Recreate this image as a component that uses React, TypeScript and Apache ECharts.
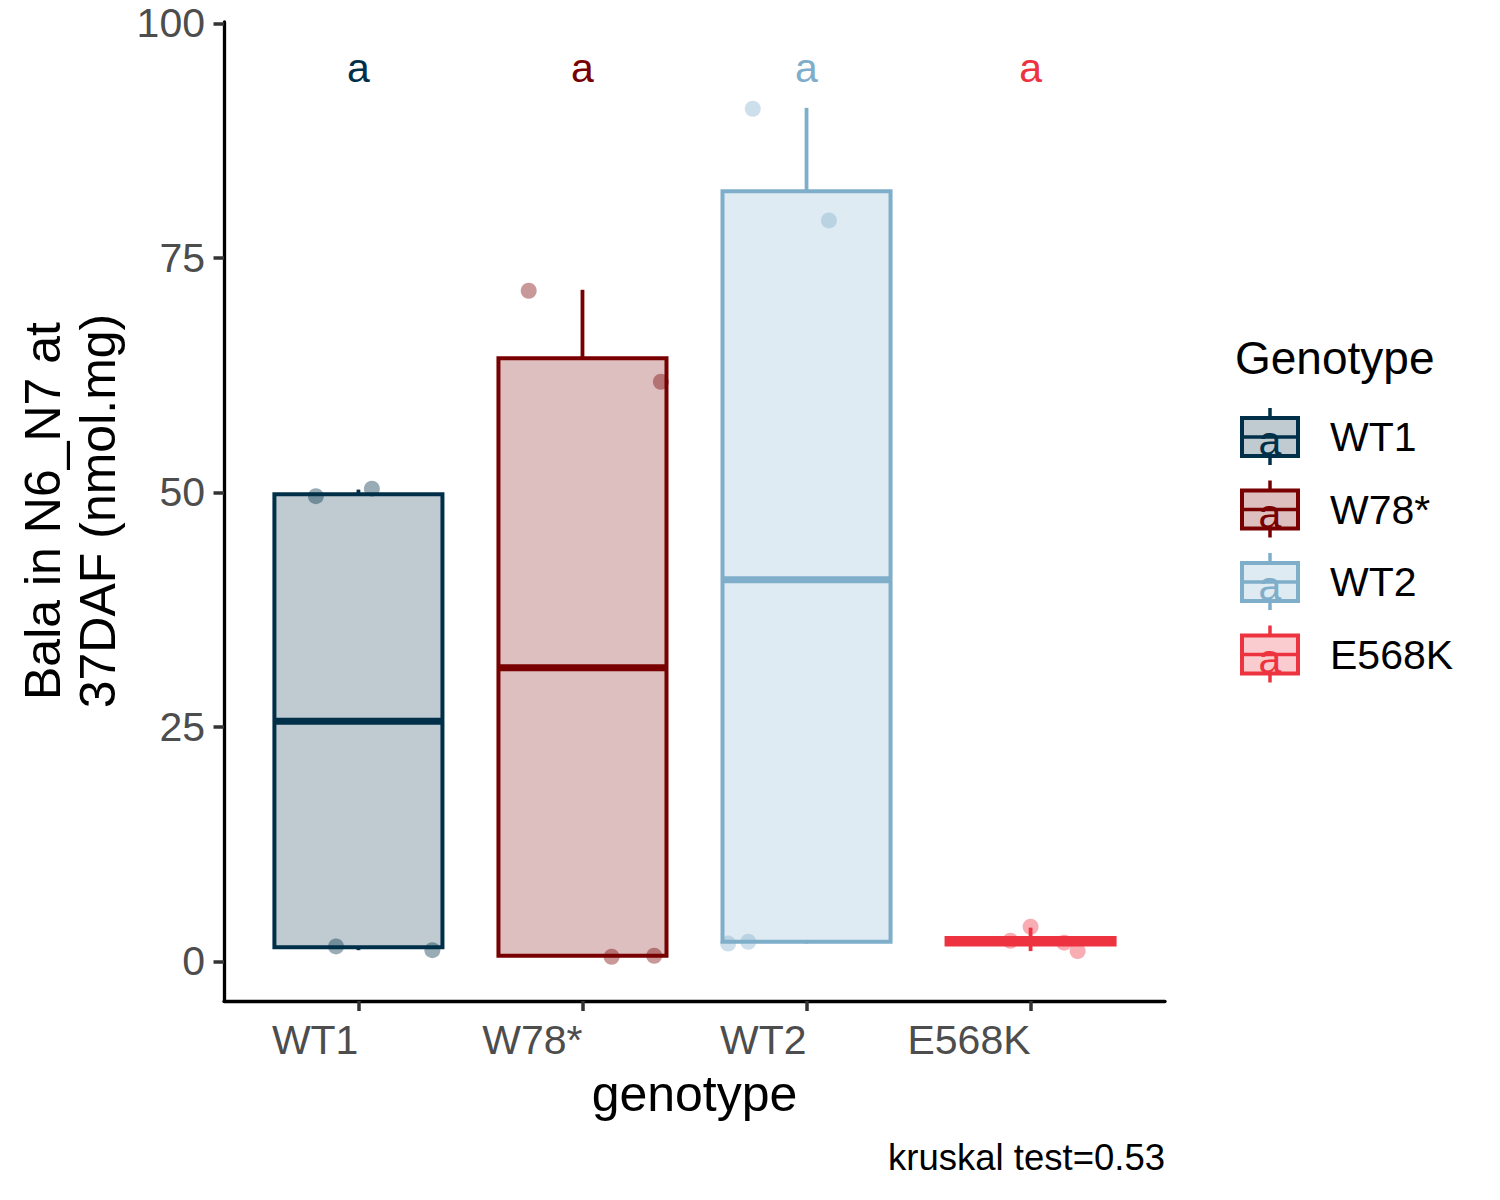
import React, { useEffect, useRef } from "react";
import * as echarts from "echarts";

// ---- data ----
const categories = ["WT1", "W78*", "WT2", "E568K"];
const lowerWhisker = [1.2, 0.5, 1.9, 1.1];
const q1 = [1.5, 0.6, 2.1, 1.8];
const median = [25.6, 31.3, 40.7, 2.1];
const q3 = [49.8, 64.3, 82.1, 2.5];
const upperWhisker = [50.3, 71.6, 91.0, 3.6];
// jittered points (x in category units, 1-based)
const pointsX = [
  [0.81, 1.06, 0.9, 1.33],
  [1.76, 2.35, 2.13, 2.32],
  [2.76, 3.1, 2.65, 2.74],
  [4.0, 3.91, 4.15, 4.21],
];
const pointsY = [
  [49.6, 50.4, 1.6, 1.2],
  [71.5, 61.8, 0.5, 0.6],
  [90.9, 79.0, 1.9, 2.1],
  [3.7, 2.2, 2.0, 1.1],
];
const letters = ["a", "a", "a", "a"];
const letterY = 95.2;
const yTicks = [0, 25, 50, 75, 100];
const xTicks = [1, 2, 3, 4];
const yTitle = "Bala in N6_N7 at\n37DAF (nmol.mg)";
const xTitle = "genotype";
const legendTitle = "Genotype";
const caption = "kruskal test=0.53";

// ---- styles ----
const COLORS = ["#003049", "#780000", "#7FAECA", "#EE3340"];
const FONT = "'Liberation Sans', Arial, sans-serif";
const BOX_WIDTH = 0.75;

function alpha(hex: string, a: number) {
  const r = parseInt(hex.slice(1, 3), 16);
  const g = parseInt(hex.slice(3, 5), 16);
  const b = parseInt(hex.slice(5, 7), 16);
  return `rgba(${r},${g},${b},${a})`;
}

export default function App() {
  const ref = useRef<HTMLDivElement>(null);
  useEffect(() => {
    document.body.style.margin = "0";
    const chart = echarts.init(ref.current!, null, { renderer: "svg" });

    const boxData = categories.map((_, i) => [
      i + 1,
      lowerWhisker[i],
      q1[i],
      median[i],
      q3[i],
      upperWhisker[i],
      i,
    ]);

    const pointSeries = categories.map((name, i) => ({
      type: "scatter",
      name,
      symbol: "circle",
      symbolSize: 16,
      z: 5,
      itemStyle: { color: alpha(COLORS[i], 0.5) },
      data: pointsX[i].map((x, j) => [x, pointsY[i][j]]),
      silent: true,
    }));

    const legendGraphics: any[] = [
      {
        type: "text",
        x: 1235,
        y: 358,
        style: { text: legendTitle, font: `46px ${FONT}`, fill: "#000", textAlign: "left", textVerticalAlign: "middle" },
      },
    ];
    categories.forEach((name, i) => {
      const cy = 437 + i * 72.5;
      const c = COLORS[i];
      legendGraphics.push(
        { type: "line", shape: { x1: 1270, y1: cy - 29, x2: 1270, y2: cy - 19 }, style: { stroke: c, lineWidth: 3.5 } },
        { type: "line", shape: { x1: 1270, y1: cy + 19, x2: 1270, y2: cy + 28 }, style: { stroke: c, lineWidth: 3.5 } },
        { type: "rect", shape: { x: 1242, y: cy - 19, width: 56, height: 38 }, style: { fill: alpha(c, 0.25), stroke: c, lineWidth: 4 } },
        { type: "line", shape: { x1: 1242, y1: cy, x2: 1298, y2: cy }, style: { stroke: c, lineWidth: 3.5 } },
        { type: "text", x: 1270, y: cy + 4, style: { text: letters[i], font: `41px ${FONT}`, fill: c, textAlign: "center", textVerticalAlign: "middle" } },
        { type: "text", x: 1330, y: cy, style: { text: name, font: `41px ${FONT}`, fill: "#000", textAlign: "left", textVerticalAlign: "middle" } }
      );
    });

    const option: any = {
      animation: false,
      backgroundColor: "#fff",
      grid: { left: 224, right: 335, top: 22, bottom: 199, containLabel: false, outerBoundsMode: "none" },
      xAxis: {
        type: "value",
        min: 0.4,
        max: 4.6,
        splitLine: { show: false },
        axisLine: { show: true, onZero: false, lineStyle: { color: "#000", width: 3.3 } },
        axisTick: { show: true, customValues: xTicks, length: 10, lineStyle: { color: "#333", width: 3.5 } },
        axisLabel: {
          customValues: xTicks,
          formatter: (v: number) => categories[Math.round(v) - 1] ?? "",
          align: "right",
          margin: 18,
          color: "#4D4D4D",
          fontSize: 41,
          fontFamily: FONT,
        },
      },
      yAxis: {
        type: "value",
        min: -4.22,
        max: 100.15,
        splitLine: { show: false },
        axisLine: { show: true, onZero: false, lineStyle: { color: "#000", width: 3.3 } },
        axisTick: { show: true, customValues: yTicks, length: 10.5, lineStyle: { color: "#333", width: 3.5 } },
        axisLabel: {
          customValues: yTicks,
          margin: 19,
          color: "#4D4D4D",
          fontSize: 41,
          fontFamily: FONT,
        },
      },
      graphic: [
        {
          type: "text",
          x: 70,
          y: 511,
          rotation: Math.PI / 2,
          style: { text: yTitle, font: `50px ${FONT}`, fill: "#000", textAlign: "center", textVerticalAlign: "middle", lineHeight: 55 },
        },
        {
          type: "text",
          x: 694.5,
          y: 1094,
          style: { text: xTitle, font: `50px ${FONT}`, fill: "#000", textAlign: "center", textVerticalAlign: "middle" },
        },
        {
          type: "text",
          x: 1165,
          y: 1157,
          style: { text: caption, font: `36.5px ${FONT}`, fill: "#000", textAlign: "right", textVerticalAlign: "middle" },
        },
        ...legendGraphics,
      ],
      series: [
        {
          type: "custom",
          z: 2,
          silent: true,
          data: boxData,
          renderItem: (params: any, api: any) => {
            const x = api.value(0);
            const ci = api.value(6);
            const c = COLORS[ci];
            const half = api.size([BOX_WIDTH, 0])[0] / 2;
            const pLo = api.coord([x, api.value(1)]);
            const pQ1 = api.coord([x, api.value(2)]);
            const pMed = api.coord([x, api.value(3)]);
            const pQ3 = api.coord([x, api.value(4)]);
            const pHi = api.coord([x, api.value(5)]);
            return {
              type: "group",
              children: [
                { type: "line", shape: { x1: pHi[0], y1: pHi[1], x2: pQ3[0], y2: pQ3[1] }, style: { stroke: c, lineWidth: 3.8 } },
                { type: "line", shape: { x1: pLo[0], y1: pLo[1], x2: pQ1[0], y2: pQ1[1] }, style: { stroke: c, lineWidth: 3.8 } },
                {
                  type: "rect",
                  shape: { x: pQ3[0] - half, y: pQ3[1], width: half * 2, height: pQ1[1] - pQ3[1] },
                  style: { fill: alpha(c, 0.25), stroke: c, lineWidth: 4 },
                },
                { type: "line", shape: { x1: pMed[0] - half, y1: pMed[1], x2: pMed[0] + half, y2: pMed[1] }, style: { stroke: c, lineWidth: 7 } },
              ],
            };
          },
        },
        ...pointSeries,
        {
          type: "custom",
          z: 6,
          silent: true,
          data: categories.map((_, i) => [i + 1, letterY, i]),
          renderItem: (params: any, api: any) => {
            const p = api.coord([api.value(0), api.value(1)]);
            const i = api.value(2);
            return {
              type: "text",
              x: p[0],
              y: p[1],
              style: { text: letters[i], font: `41px ${FONT}`, fill: COLORS[i], textAlign: "center", textVerticalAlign: "middle" },
            };
          },
        },
      ],
    };
    chart.setOption(option);
    return () => chart.dispose();
  }, []);
  return <div ref={ref} style={{ position: "fixed", left: 0, top: 0, width: 1500, height: 1200 }} />;
}
